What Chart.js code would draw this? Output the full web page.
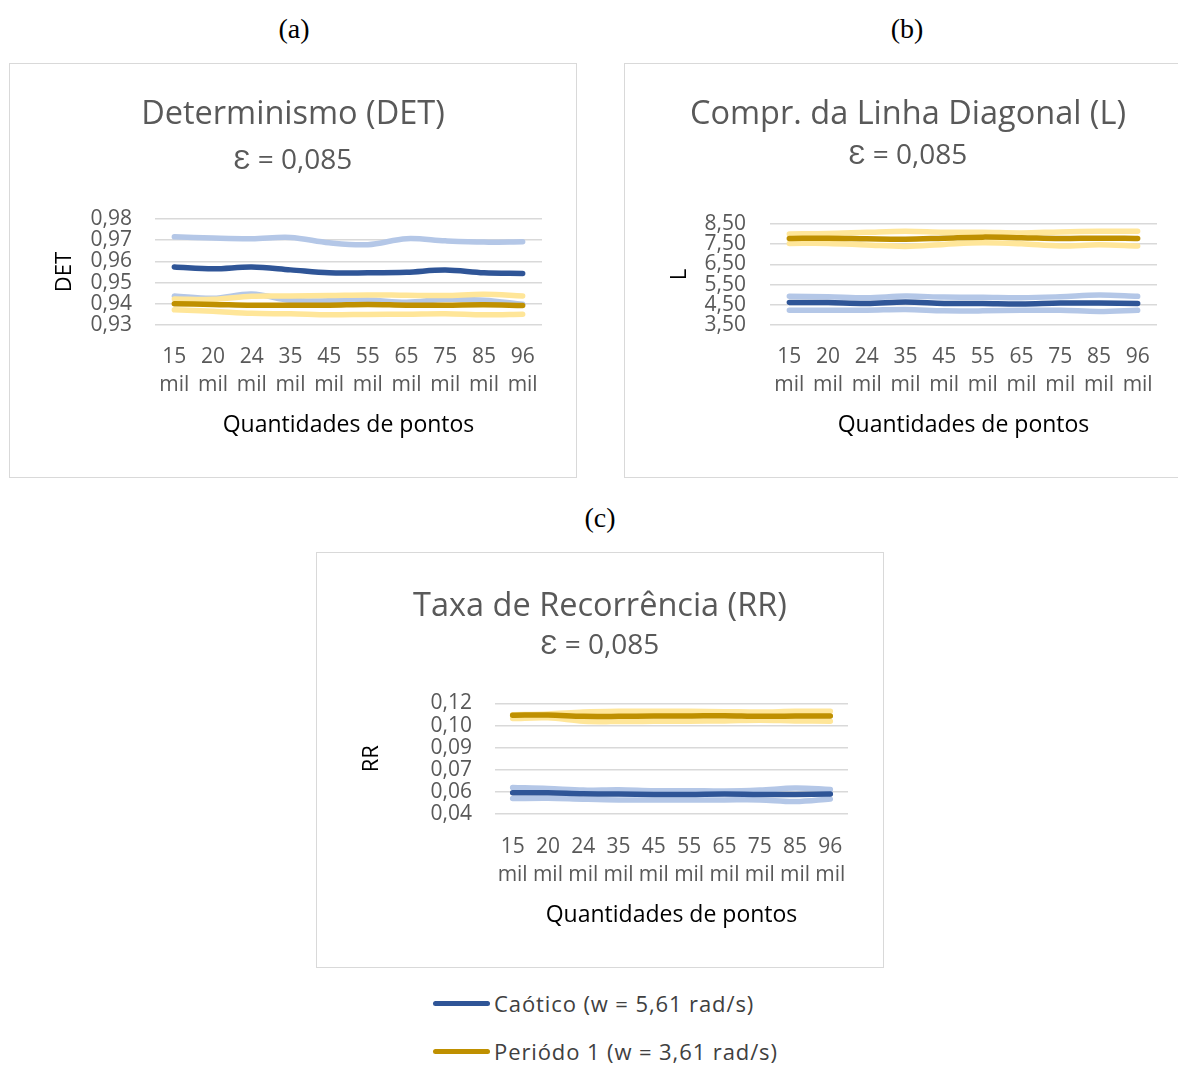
<!DOCTYPE html>
<html>
<head>
<meta charset="utf-8">
<script src="https://cdn.jsdelivr.net/npm/chart.js@4.4.0/dist/chart.umd.min.js"></script>
<style>
  html, body { margin: 0; padding: 0; background: #fff; }
  body { width: 1178px; height: 1066px; position: relative; overflow: hidden; font-family: "Open Sans", sans-serif; }
  canvas { position: absolute; }
  .frame { position: absolute; box-sizing: border-box; border: 1px solid #d9d9d9; pointer-events: none; }
  .tag { position: absolute; font-family: "Liberation Serif", "Times New Roman", serif; font-size: 28px; color: #000; transform: translate(-50%, -50%); line-height: 1; }
  .leg { position: absolute; left: 433px; height: 30px; display: flex; align-items: center; }
  .leg .sw { width: 57px; height: 5px; border-radius: 3px; }
  .leg .txt { margin-left: 4px; font-size: 22px; line-height: 30px; letter-spacing: 0.9px; color: #404040; white-space: nowrap; }
</style>
</head>
<body>
<div class="tag" style="left:294px; top:29px;">(a)</div>
<div class="tag" style="left:907px; top:29px;">(b)</div>
<div class="tag" style="left:600px; top:518px;">(c)</div>

<canvas id="chartDet" width="568" height="415" style="left:9px; top:63px;"></canvas>
<canvas id="chartL" width="568" height="415" style="left:624px; top:63px;"></canvas>
<canvas id="chartRR" width="568" height="416" style="left:316px; top:552px;"></canvas>
<div class="frame" style="left:9px; top:63px; width:568px; height:415px;"></div>
<div class="frame" style="left:624px; top:63px; width:568px; height:415px;"></div>
<div class="frame" style="left:316px; top:552px; width:568px; height:416px;"></div>

<div id="legend"></div>

<script>
// Sample sizes (x axis), two-line labels
const categories = [
  ['15', 'mil'], ['20', 'mil'], ['24', 'mil'], ['35', 'mil'], ['45', 'mil'],
  ['55', 'mil'], ['65', 'mil'], ['75', 'mil'], ['85', 'mil'], ['96', 'mil']
];

const seriesNames = ['Caótico (w = 5,61 rad/s)', 'Periódo 1 (w = 3,61 rad/s)'];

// Determinismo (DET)
const detCaoticoMedia    = [0.9574, 0.9565, 0.9573, 0.9560, 0.9546, 0.9546, 0.9549, 0.9559, 0.9546, 0.9543];
const detCaoticoSuperior = [0.9716, 0.9710, 0.9707, 0.9713, 0.9688, 0.9679, 0.9707, 0.9697, 0.9691, 0.9693];
const detCaoticoInferior = [0.9437, 0.9426, 0.9446, 0.9417, 0.9414, 0.9418, 0.9407, 0.9421, 0.9417, 0.9398];
const detPeriodoMedia    = [0.9400, 0.9397, 0.9393, 0.9393, 0.9393, 0.9397, 0.9393, 0.9393, 0.9395, 0.9392];
const detPeriodoSuperior = [0.9423, 0.9421, 0.9436, 0.9437, 0.9439, 0.9442, 0.9440, 0.9439, 0.9445, 0.9437];
const detPeriodoInferior = [0.9372, 0.9365, 0.9355, 0.9353, 0.9348, 0.9350, 0.9351, 0.9353, 0.9348, 0.9351];
const detTicks = [0.93, 0.94, 0.95, 0.96, 0.97, 0.98];

// Comprimento da linha diagonal (L)
const lCaoticoMedia    = [4.62, 4.61, 4.57, 4.64, 4.57, 4.56, 4.54, 4.59, 4.59, 4.57];
const lCaoticoSuperior = [4.92, 4.90, 4.85, 4.93, 4.88, 4.87, 4.85, 4.90, 4.98, 4.92];
const lCaoticoInferior = [4.23, 4.23, 4.23, 4.27, 4.20, 4.20, 4.23, 4.23, 4.17, 4.23];
const lPeriodoMedia    = [7.78, 7.80, 7.77, 7.75, 7.80, 7.85, 7.82, 7.78, 7.80, 7.78];
const lPeriodoSuperior = [8.01, 8.03, 8.09, 8.14, 8.09, 8.09, 8.06, 8.11, 8.14, 8.14];
const lPeriodoInferior = [7.54, 7.54, 7.46, 7.39, 7.49, 7.57, 7.52, 7.41, 7.47, 7.41];
const lTicks = [3.5, 4.5, 5.5, 6.5, 7.5, 8.5];

// Taxa de recorrência (RR)
const rrCaoticoMedia    = [0.0554, 0.0554, 0.0547, 0.0545, 0.0542, 0.0542, 0.0545, 0.0542, 0.0542, 0.0545];
const rrCaoticoSuperior = [0.0592, 0.0585, 0.0573, 0.0576, 0.0569, 0.0569, 0.0566, 0.0573, 0.0588, 0.0578];
const rrCaoticoInferior = [0.0512, 0.0514, 0.0507, 0.0502, 0.0502, 0.0502, 0.0502, 0.0502, 0.0490, 0.0509];
const rrPeriodoMedia    = [0.1115, 0.1117, 0.1107, 0.1107, 0.1110, 0.1110, 0.1112, 0.1107, 0.1110, 0.1110];
const rrPeriodoSuperior = [0.1119, 0.1124, 0.1138, 0.1143, 0.1143, 0.1143, 0.1141, 0.1138, 0.1143, 0.1143];
const rrPeriodoInferior = [0.1091, 0.1096, 0.1072, 0.1069, 0.1072, 0.1072, 0.1074, 0.1079, 0.1074, 0.1072];
const rrTicks = [0.04, 0.056, 0.072, 0.088, 0.104, 0.12];

const COLORS = {
  caotico: '#2f5597',
  caoticoBand: '#b4c7e7',
  periodo: '#bf9000',
  periodoBand: '#ffe699'
};
const FONT = '"Open Sans", "Liberation Sans", sans-serif';
const fmt = v => v.toFixed(2).replace('.', ',');

function line(label, data, color) {
  return {
    label, data,
    borderColor: color, backgroundColor: color,
    borderWidth: 5.5, pointRadius: 0, pointHoverRadius: 0,
    borderCapStyle: 'round', borderJoinStyle: 'round',
    tension: 0.35, fill: false
  };
}

// first dataset is painted on top
function seriesSet(s) {
  return [
    line(seriesNames[0], s.cMed, COLORS.caotico),
    line(seriesNames[1], s.pMed, COLORS.periodo),
    line(seriesNames[1] + ' sup.', s.pSup, COLORS.periodoBand),
    line(seriesNames[1] + ' inf.', s.pInf, COLORS.periodoBand),
    line(seriesNames[0] + ' sup.', s.cSup, COLORS.caoticoBand),
    line(seriesNames[0] + ' inf.', s.cInf, COLORS.caoticoBand)
  ];
}

function makeChart(id, o) {
  new Chart(document.getElementById(id), {
    type: 'line',
    data: { labels: categories, datasets: seriesSet(o.series) },
    options: {
      responsive: false,
      animation: false,
      events: [],
      layout: { padding: { left: 0, right: 0, top: 0, bottom: o.padBottom } },
      plugins: {
        legend: { display: false },
        tooltip: { enabled: false },
        title: {
          display: true, text: o.title, color: '#595959',
          font: { family: FONT, size: 32.5, weight: 'normal', lineHeight: 1.2 },
          padding: { top: o.titleTop, bottom: o.titleBottom }
        },
        subtitle: {
          display: true, text: 'Ɛ = 0,085', color: '#595959',
          font: { family: FONT, size: 28, weight: 'normal', lineHeight: 1.2 },
          padding: { top: 0, bottom: o.subBottom }
        }
      },
      scales: {
        x: {
          offset: true,
          grid: { display: false, drawTicks: false },
          border: { display: false },
          ticks: {
            color: '#595959', padding: o.xTickPad, maxRotation: 0, autoSkip: false,
            font: { family: FONT, size: 21, lineHeight: 1.333 }
          },
          title: {
            display: true, text: 'Quantidades de pontos', color: '#000',
            font: { family: FONT, size: 23, lineHeight: 1.2 },
            padding: { top: 0, bottom: 0 }
          },
          afterFit: s => { s.height = o.xHeight; }
        },
        y: {
          min: o.ticks[0], max: o.ticks[o.ticks.length - 1],
          grid: { color: '#d9d9d9', lineWidth: 1.6, drawTicks: false },
          border: { display: false },
          afterBuildTicks: s => { s.ticks = o.ticks.map(v => ({ value: v })); },
          ticks: {
            color: '#595959', padding: o.yTickPad, autoSkip: false,
            font: { family: FONT, size: 21, lineHeight: 1.0 },
            callback: v => fmt(v)
          },
          title: {
            display: true, text: o.yTitle, color: '#000',
            font: { family: FONT, size: 22, lineHeight: 1.2 },
            padding: { top: 42.8, bottom: 0 }
          },
          afterFit: s => { s.width = o.yWidth; }
        },
        // empty right-hand gutter so the titles stay centred on the whole panel
        gutter: {
          type: 'linear', position: 'right', display: true,
          grid: { display: false, drawTicks: false },
          border: { display: false },
          ticks: { display: false },
          afterFit: s => { s.width = o.padRight; }
        }
      }
    }
  });
}

makeChart('chartDet', {
  title: 'Determinismo (DET)', yTitle: 'DET', ticks: detTicks,
  series: { cMed: detCaoticoMedia, cSup: detCaoticoSuperior, cInf: detCaoticoInferior,
            pMed: detPeriodoMedia, pSup: detPeriodoSuperior, pInf: detPeriodoInferior },
  padRight: 35, padBottom: 39.2, xHeight: 113.8, xTickPad: 18, yTickPad: 23, yWidth: 146,
  titleTop: 32.4, titleBottom: 9.4, subBottom: 41.6
});

makeChart('chartL', {
  title: 'Compr. da Linha Diagonal (L)', yTitle: 'L', ticks: lTicks,
  series: { cMed: lCaoticoMedia, cSup: lCaoticoSuperior, cInf: lCaoticoInferior,
            pMed: lPeriodoMedia, pSup: lPeriodoSuperior, pInf: lPeriodoInferior },
  padRight: 35, padBottom: 39.2, xHeight: 113.8, xTickPad: 18, yTickPad: 24, yWidth: 146,
  titleTop: 32, titleBottom: 5.6, subBottom: 50.8
});

makeChart('chartRR', {
  title: 'Taxa de Recorrência (RR)', yTitle: 'RR', ticks: rrTicks,
  series: { cMed: rrCaoticoMedia, cSup: rrCaoticoSuperior, cInf: rrCaoticoInferior,
            pMed: rrPeriodoMedia, pSup: rrPeriodoSuperior, pInf: rrPeriodoInferior },
  padRight: 36, padBottom: 39.2, xHeight: 114.8, xTickPad: 19, yTickPad: 23, yWidth: 179,
  titleTop: 34.8, titleBottom: 3.6, subBottom: 40.5
});

// Shared legend below the charts
const legendColors = [COLORS.caotico, COLORS.periodo];
const legendTops = [988, 1036];
const legend = document.getElementById('legend');
seriesNames.forEach((name, i) => {
  const row = document.createElement('div');
  row.className = 'leg';
  row.style.top = legendTops[i] + 'px';
  const sw = document.createElement('span');
  sw.className = 'sw';
  sw.style.background = legendColors[i];
  const txt = document.createElement('span');
  txt.className = 'txt';
  txt.textContent = name;
  row.appendChild(sw);
  row.appendChild(txt);
  legend.appendChild(row);
});
</script>
</body>
</html>
